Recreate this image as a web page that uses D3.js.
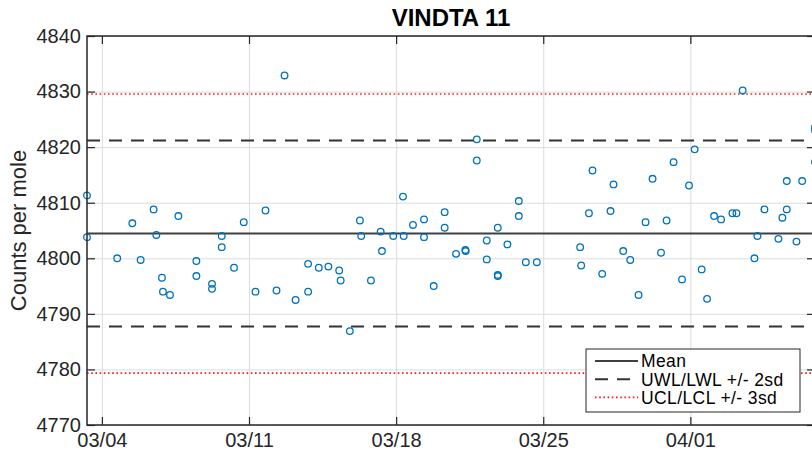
<!DOCTYPE html>
<html>
  <head>
    <meta charset="utf-8">
    <title>VINDTA 11</title>
  </head>
  <style>
  body{
      margin: 0;
      background: #fff;
      font-family: "Liberation Sans", Helvetica, Arial, sans-serif;
    }
  svg { display: block; }
  .grid line { stroke: #dcdcdc; stroke-width: 1; }
  .grid path, .ticks path { display: none; }
  .ticks line { stroke: #262626; stroke-width: 1.2; }
  .ticks text { fill: #262626; font-size: 20px; }
  </style>
  <script src="https://d3js.org/d3.v7.min.js"></script>
  <body>
    <script>
    // sample times and counts per mole
    var sampleTimes = [
      "2021-03-03 07:00", "2021-03-03 07:00", "2021-03-04 17:30", "2021-03-05 10:45", "2021-03-05 20:15",
      "2021-03-06 11:05", "2021-03-06 14:10", "2021-03-06 20:35", "2021-03-06 21:45", "2021-03-07 05:45",
      "2021-03-07 15:20", "2021-03-08 11:55", "2021-03-08 11:55", "2021-03-09 05:45", "2021-03-09 05:45",
      "2021-03-09 16:50", "2021-03-09 16:50", "2021-03-10 06:55", "2021-03-10 18:00", "2021-03-11 07:25",
      "2021-03-11 18:50", "2021-03-12 07:25", "2021-03-12 16:35", "2021-03-13 05:10", "2021-03-13 19:30",
      "2021-03-13 19:30", "2021-03-14 07:40", "2021-03-14 18:40", "2021-03-15 07:00", "2021-03-15 08:40",
      "2021-03-15 19:10", "2021-03-16 06:40", "2021-03-16 08:10", "2021-03-16 19:15", "2021-03-17 06:20",
      "2021-03-17 07:50", "2021-03-17 20:45", "2021-03-18 07:50", "2021-03-18 08:40", "2021-03-18 19:15",
      "2021-03-19 07:50", "2021-03-19 07:50", "2021-03-19 18:55", "2021-03-20 07:25", "2021-03-20 07:25",
      "2021-03-20 20:25", "2021-03-21 07:05", "2021-03-21 07:25", "2021-03-21 20:05", "2021-03-21 20:05",
      "2021-03-22 07:30", "2021-03-22 07:30", "2021-03-22 20:05", "2021-03-22 20:05", "2021-03-22 20:05",
      "2021-03-23 07:05", "2021-03-23 20:05", "2021-03-23 20:05", "2021-03-24 04:05", "2021-03-24 16:40",
      "2021-03-26 18:10", "2021-03-26 19:20", "2021-03-27 04:10", "2021-03-27 08:15", "2021-03-27 19:20",
      "2021-03-28 04:50", "2021-03-28 08:15", "2021-03-28 19:20", "2021-03-29 03:20", "2021-03-29 12:50",
      "2021-03-29 20:50", "2021-03-30 04:50", "2021-03-30 14:30", "2021-03-30 20:50", "2021-03-31 04:50",
      "2021-03-31 14:30", "2021-03-31 22:30", "2021-04-01 04:55", "2021-04-01 12:55", "2021-04-01 19:05",
      "2021-04-02 03:05", "2021-04-02 11:05", "2021-04-03 00:00", "2021-04-03 04:35", "2021-04-03 11:45",
      "2021-04-04 01:10", "2021-04-04 04:35", "2021-04-04 12:35", "2021-04-05 04:35", "2021-04-05 09:05",
      "2021-04-05 14:05", "2021-04-05 14:05", "2021-04-06 01:10", "2021-04-06 07:40", "2021-04-06 22:20",
      "2021-04-06 22:20", "2021-04-06 22:20"
    ]
    var counts = [
      4811.3, 4803.8, 4800.0, 4806.3, 4799.7,
      4808.8, 4804.2, 4796.5, 4794.0, 4793.4,
      4807.6, 4799.5, 4796.8, 4795.4, 4794.5,
      4804.0, 4802.0, 4798.3, 4806.5, 4794.0,
      4808.6, 4794.2, 4832.9, 4792.5, 4799.0,
      4794.0, 4798.3, 4798.5, 4797.8, 4796.0,
      4786.9, 4806.8, 4804.0, 4796.0, 4804.8,
      4801.3, 4804.0, 4811.1, 4804.0, 4806.0,
      4807.0, 4803.8, 4795.0, 4808.3, 4805.5,
      4800.8, 4801.5, 4801.3, 4821.4, 4817.6,
      4803.2, 4799.8, 4805.5, 4797.0, 4796.8,
      4802.5, 4810.3, 4807.6, 4799.3, 4799.3,
      4802.0, 4798.7, 4808.1, 4815.8, 4797.2,
      4808.5, 4813.3, 4801.3, 4799.7, 4793.4,
      4806.5, 4814.3, 4801.0, 4806.8, 4817.3,
      4796.2, 4813.1, 4819.6, 4798.0, 4792.7,
      4807.6, 4807.0, 4808.1, 4808.1, 4830.2,
      4800.0, 4804.0, 4808.8, 4803.5, 4807.3,
      4813.9, 4808.8, 4803.0, 4813.9, 4823.0,
      4823.6, 4817.3
    ]

    var meanCount = 4804.45
    var sdCount = 8.37
    var legendLabels = ["Mean", "UWL/LWL +/- 2sd", "UCL/LCL +/- 3sd"]
    var yTicks = [4770, 4780, 4790, 4800, 4810, 4820, 4830, 4840]
    var dateTicks = ["2021-03-04", "2021-03-11", "2021-03-18", "2021-03-25", "2021-04-01"]

    var W = 812, H = 454
    var plot = { left: 87, right: 815, top: 36, bottom: 425 }
    var width = plot.right - plot.left
    var height = plot.bottom - plot.top

    var parseTime = d3.timeParse("%Y-%m-%d %H:%M")
    var parseDay = d3.timeParse("%Y-%m-%d")
    var dates = sampleTimes.map(function(s){ return parseTime(s) })
    var points = dates.map(function(d, i){ return { t: d, v: counts[i] } })
    var tickDates = dateTicks.map(function(s){ return parseDay(s) })

    var svg = d3.select("body")
                .append("svg")
                .attr("width", W)
                .attr("height", H)

    var g = svg.append("g")
               .attr("transform", "translate(" + plot.left + "," + plot.top + ")")

    var xScale = d3.scaleTime()
                   .domain(d3.extent(dates))
                   .range([0, width])
    var yScale = d3.scaleLinear()
                   .domain([4770, 4840])
                   .range([height, 0])

    // grid
    g.append("g").attr("class", "grid")
     .call(d3.axisLeft(yScale).tickValues(yTicks).tickSize(-width).tickFormat(""))
    g.append("g").attr("class", "grid")
     .attr("transform", "translate(0," + height + ")")
     .call(d3.axisBottom(xScale).tickValues(tickDates).tickSize(-height).tickFormat(""))

    // control lines
    var refLines = [
      { v: meanCount, kind: 0 },
      { v: meanCount + 2 * sdCount, kind: 1 },
      { v: meanCount - 2 * sdCount, kind: 1 },
      { v: meanCount + 3 * sdCount, kind: 2 },
      { v: meanCount - 3 * sdCount, kind: 2 }
    ]
    var lineStyle = [
      { stroke: "#404040", width: 2, dash: null },
      { stroke: "#333333", width: 2, dash: "13,9" },
      { stroke: "#ff1a1a", width: 1.6, dash: "1.6,2.6" }
    ]
    g.selectAll(".ref")
     .data(refLines)
     .enter()
     .append("line")
     .attr("class", "ref")
     .attr("x1", 0)
     .attr("x2", width)
     .attr("y1", function(d){ return yScale(d.v) })
     .attr("y2", function(d){ return yScale(d.v) })
     .attr("stroke", function(d){ return lineStyle[d.kind].stroke })
     .attr("stroke-width", function(d){ return lineStyle[d.kind].width })
     .attr("stroke-dasharray", function(d){ return lineStyle[d.kind].dash })

    // points
    g.selectAll("circle")
     .data(points)
     .enter()
     .append("circle")
     .attr("cx", function(d){ return xScale(d.t) })
     .attr("cy", function(d){ return yScale(d.v) })
     .attr("r", 3.3)
     .attr("fill", "none")
     .attr("stroke", "#0072BD")
     .attr("stroke-width", 1.3)

    // axes and box
    g.append("g").attr("class", "ticks")
     .call(d3.axisLeft(yScale).tickValues(yTicks).tickSizeInner(-8).tickSizeOuter(0).tickPadding(6)
             .tickFormat(d3.format("d")))
    g.append("g").attr("class", "ticks")
     .attr("transform", "translate(" + width + ",0)")
     .call(d3.axisRight(yScale).tickValues(yTicks).tickSizeInner(-8).tickSizeOuter(0).tickFormat(""))
    g.append("g").attr("class", "ticks")
     .attr("transform", "translate(0," + height + ")")
     .call(d3.axisBottom(xScale).tickValues(tickDates).tickSizeInner(-8).tickSizeOuter(0).tickPadding(8)
             .tickFormat(d3.timeFormat("%m/%d")))
    g.append("g").attr("class", "ticks")
     .call(d3.axisTop(xScale).tickValues(tickDates).tickSizeInner(-8).tickSizeOuter(0).tickFormat(""))

    g.append("rect")
     .attr("width", width)
     .attr("height", height)
     .attr("fill", "none")
     .attr("stroke", "#262626")
     .attr("stroke-width", 1.5)

    // title + y label
    svg.append("text")
       .attr("x", plot.left + width / 2)
       .attr("y", 26)
       .attr("text-anchor", "middle")
       .attr("font-size", "24px")
       .attr("font-weight", "bold")
       .attr("fill", "#000")
       .text("VINDTA 11")

    svg.append("text")
       .attr("transform", "translate(26," + (plot.top + height / 2) + ") rotate(-90)")
       .attr("text-anchor", "middle")
       .attr("font-size", "22px")
       .attr("fill", "#262626")
       .text("Counts per mole")

    // legend
    var legend = svg.append("g").attr("transform", "translate(586,349)")
    legend.append("rect")
          .attr("width", 214)
          .attr("height", 63)
          .attr("fill", "#fff")
          .attr("stroke", "#262626")
          .attr("stroke-width", 1)
    var item = legend.selectAll(".item")
                     .data(legendLabels)
                     .enter()
                     .append("g")
                     .attr("class", "item")
                     .attr("transform", function(d, i){ return "translate(0," + (12 + i * 18.2) + ")" })
    item.append("line")
        .attr("x1", 9)
        .attr("x2", 52)
        .attr("stroke", function(d, i){ return lineStyle[i].stroke })
        .attr("stroke-width", function(d, i){ return lineStyle[i].width })
        .attr("stroke-dasharray", function(d, i){ return lineStyle[i].dash })
    item.append("text")
        .attr("x", 55)
        .attr("dy", "0.36em")
        .attr("font-size", "17.5px")
        .attr("letter-spacing", "0.4px")
        .attr("fill", "#000")
        .text(function(d){ return d })
    </script>
  </body>
</html>
